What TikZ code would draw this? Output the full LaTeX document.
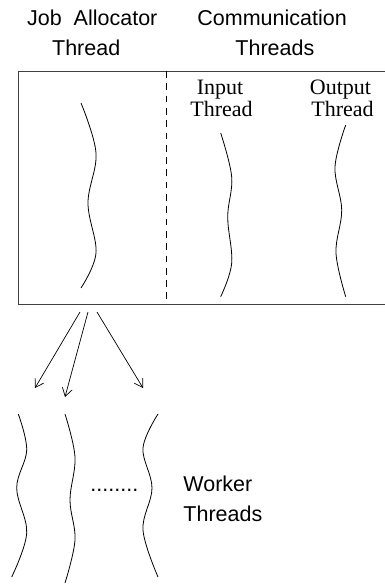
\documentclass[tikz,border=0pt]{standalone}
\usepackage{fontspec}
\setmainfont{Liberation Serif}
\newfontfamily\labelsans{Liberation Sans}
\usetikzlibrary{arrows.meta}

\begin{document}
\begin{tikzpicture}[x=1pt,y=-1pt,
  line width=0.9pt,
  heading/.style={inner sep=0pt,anchor=base west,font=\labelsans\fontsize{21.5}{26}\selectfont},
  serifhead/.style={inner sep=0pt,anchor=base,font=\fontsize{22}{24}\selectfont},
  thread/.style={line width=0.8pt},
  spawn/.style={line width=0.7pt,-{Straight Barb[length=8pt,width=10pt,line width=0.7pt]}},
  divider/.style={line width=0.8pt,dash pattern=on 6.7pt off 5.6pt}]

  \useasboundingbox (0,0) rectangle (385,584);

  % headings above the frame
  \node[heading] (jobA) at (26.7,25) {Job\ \ Allocator};
  \node[heading] (jobT) at (51.7,55) {Thread};
  \node[heading] (comA) at (197,25) {Communication};
  \node[heading] (comT) at (235,55) {Threads};

  % frame, open on the right
  \draw[line width=1pt,black!75] (386,71) -- (18.3,71) -- (18.3,304) -- (386,304);
  \coordinate (dtop) at (166.7,71);
  \coordinate (dbot) at (166.7,304);
  \draw[divider] (dtop) -- (dbot);

  % communication thread labels
  \node[serifhead] (inA) at (220,94) {Input};
  \node[serifhead] (inT) at (221.5,116.7) {Thread};
  \node[serifhead] (outA) at (340.5,94) {Output};
  \node[serifhead] (outT) at (342.5,116.7) {Thread};

  % job allocator thread
  \draw[thread] plot[smooth,tension=0.6] coordinates
    {(81,103) (96,153) (88,203) (96,253) (81,288)};
  % input thread
  \draw[thread] plot[smooth,tension=0.6] coordinates
    {(220.7,133) (231.7,177) (227.7,217) (231.7,263) (220.7,296.7)};
  % output thread
  \draw[thread] plot[smooth,tension=0.6] coordinates
    {(345.7,125) (335,167) (341.7,210) (336,253) (345.7,296.7)};

  % spawning arrows
  \coordinate (s1) at (80,312);
  \coordinate (s2) at (88,312);
  \coordinate (s3) at (97,312);
  \coordinate (w1) at (35,388);
  \coordinate (w2) at (65,397);
  \coordinate (w3) at (143,388);
  \draw[spawn] (s1) -- (w1);
  \draw[spawn] (s2) -- (w2);
  \draw[spawn] (s3) -- (w3);

  % worker threads
  \draw[thread] plot[smooth,tension=0.6] coordinates
    {(18.3,414) (26.7,450) (16.7,488) (26.7,533) (11.7,577)};
  \draw[thread] plot[smooth,tension=0.6] coordinates
    {(65,414) (75,457) (70,500) (75,540) (65,583)};
  \draw[thread] plot[smooth,tension=0.6] coordinates
    {(158,414) (143,448) (152,488) (143,530) (158,577)};

  \node[heading] (dots) at (90,491.5) {........};
  \node[heading] (wkA) at (183,491.7) {Worker};
  \node[heading] (wkT) at (183,521.7) {Threads};
\end{tikzpicture}
\end{document}
